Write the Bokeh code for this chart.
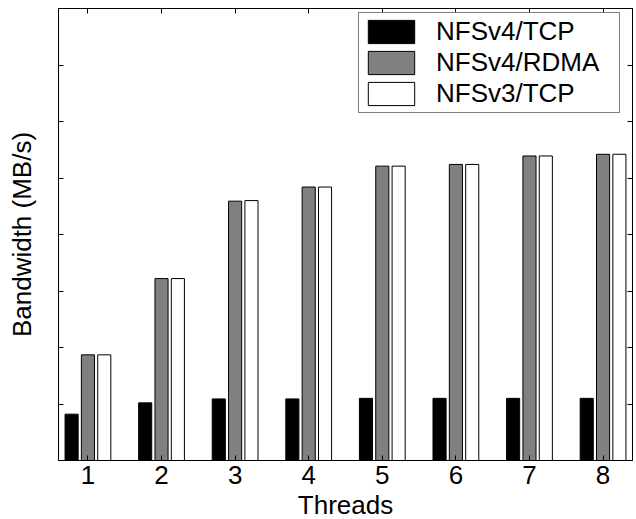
from bokeh.plotting import figure
from bokeh.models import (ColumnDataSource, Range1d, FixedTicker, LinearAxis,
                          Legend, LegendItem, CustomLabelingPolicy)
from bokeh.transform import dodge
from bokeh.embed import file_html
from bokeh.resources import INLINE

threads = [1, 2, 3, 4, 5, 6, 7, 8]
nfsv4_tcp = [0.82, 1.02, 1.09, 1.09, 1.10, 1.10, 1.10, 1.10]
nfsv4_rdma = [1.87, 3.22, 4.59, 4.84, 5.21, 5.24, 5.39, 5.42]
nfsv3_tcp = [1.87, 3.22, 4.60, 4.84, 5.21, 5.24, 5.39, 5.42]
series_labels = ["NFSv4/TCP", "NFSv4/RDMA", "NFSv3/TCP"]
y_ticks = [0, 1, 2, 3, 4, 5, 6, 7, 8]

src = ColumnDataSource(dict(x=threads, a=nfsv4_tcp, b=nfsv4_rdma, c=nfsv3_tcp))

FONT = "Liberation Sans"
FS = "26px"

p = figure(frame_width=574, frame_height=452, output_backend="svg",
           toolbar_location=None,
           x_range=Range1d(0.6, 8.4), y_range=Range1d(0, 8),
           min_border_left=58, min_border_right=4, min_border_top=8,
           min_border_bottom=58)
p.grid.visible = False
p.outline_line_color = "black"
p.outline_line_width = 1
p.background_fill_color = "white"
p.border_fill_color = "white"

bw = 0.178
off = 0.222
r1 = p.vbar(x=dodge("x", -off, range=p.x_range), top="a", width=bw, source=src,
            fill_color="black", line_color="black", line_width=1)
r2 = p.vbar(x=dodge("x", 0, range=p.x_range), top="b", width=bw, source=src,
            fill_color="#808080", line_color="black", line_width=1)
r3 = p.vbar(x=dodge("x", off, range=p.x_range), top="c", width=bw, source=src,
            fill_color="white", line_color="black", line_width=1)

no_labels = CustomLabelingPolicy(code="""
for (const i of indices) { indices.unset(i) }
return indices
""")

def style(ax, ticks, show_labels):
    ax.ticker = FixedTicker(ticks=ticks)
    ax.major_tick_in = 5
    ax.major_tick_out = 0
    ax.minor_tick_in = 0
    ax.minor_tick_out = 0
    ax.axis_line_color = "black"
    ax.major_tick_line_color = "black"
    ax.major_label_text_font = FONT
    ax.major_label_text_color = "black"
    ax.axis_label_text_font = FONT
    ax.axis_label_text_font_style = "normal"
    ax.axis_label_text_color = "black"
    ax.axis_label_text_font_size = FS
    if show_labels:
        ax.major_label_text_font_size = FS
    else:
        ax.major_label_text_font_size = "1px"
        ax.major_label_standoff = 0
        ax.major_label_policy = no_labels

xa = p.xaxis[0]
style(xa, threads, True)
xa.axis_label = "Threads"
xa.major_label_standoff = 5
xa.axis_label_standoff = 3

ya = p.yaxis[0]
style(ya, y_ticks, False)
ya.axis_label = "Bandwidth (MB/s)"
ya.axis_label_standoff = 18

top_ax = LinearAxis()
style(top_ax, threads, False)
p.add_layout(top_ax, "above")
right_ax = LinearAxis()
style(right_ax, y_ticks, False)
p.add_layout(right_ax, "right")

legend = Legend(items=[LegendItem(label=series_labels[0], renderers=[r1]),
                       LegendItem(label=series_labels[1], renderers=[r2]),
                       LegendItem(label=series_labels[2], renderers=[r3])],
                location=(300, 347), padding=3,
                glyph_width=58, glyph_height=29, label_height=29,
                label_width=180, label_standoff=16, spacing=-2,
                label_text_font=FONT, label_text_font_size=FS,
                label_text_color="black",
                border_line_color="black", border_line_width=1,
                background_fill_color="white", background_fill_alpha=1)
p.add_layout(legend)

open("out.html", "w").write(file_html(p, INLINE))
